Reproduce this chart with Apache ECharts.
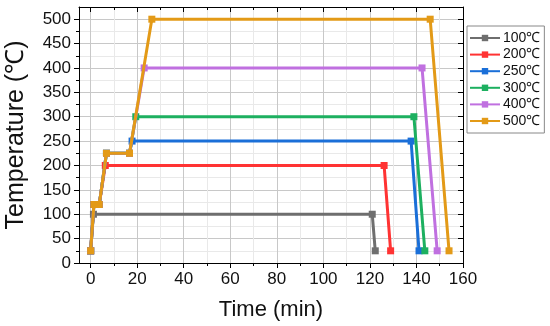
<!DOCTYPE html>
<html><head><meta charset="utf-8">
<script src="https://cdn.jsdelivr.net/npm/echarts@6/dist/echarts.min.js"></script>
<style>html,body{margin:0;padding:0;background:#fff}#c{width:550px;height:326px}</style>
</head><body><div id="c"></div>
<script>
// ---- data ----
const seriesNames = ['100℃', '200℃', '250℃', '300℃', '400℃', '500℃'];
const seriesColors = ['#6e6e6e', '#ff3333', '#1a6fd8', '#1db060', '#c070e0', '#e39a17'];
const time100 = [0, 1.2, 121, 122.3];
const temp100 = [25, 100, 100, 25];
const time200 = [0, 1.4, 3.7, 6.3, 126.1, 128.9];
const temp200 = [25, 120, 120, 200, 200, 25];
const time250 = [0, 1.4, 3.7, 6.8, 16.7, 17.8, 137.7, 141.1];
const temp250 = [25, 120, 120, 225, 225, 250, 250, 25];
const time300 = [0, 1.4, 3.7, 6.8, 16.7, 19.4, 138.9, 143.6];
const temp300 = [25, 120, 120, 225, 225, 300, 300, 25];
const time400 = [0, 1.4, 3.7, 6.8, 16.7, 23.0, 142.4, 148.9];
const temp400 = [25, 120, 120, 225, 225, 400, 400, 25];
const time500 = [0, 1.4, 3.7, 6.8, 16.7, 26.3, 145.9, 154.0];
const temp500 = [25, 120, 120, 225, 225, 500, 500, 25];
const xMajorTicks = [0, 20, 40, 60, 80, 100, 120, 140, 160];
const xMinorTicks = [10, 30, 50, 70, 90, 110, 130, 150];
const yMajorTicks = [0, 50, 100, 150, 200, 250, 300, 350, 400, 450, 500];
const yMinorTicks = [25, 75, 125, 175, 225, 275, 325, 375, 425, 475];
const xName = 'Time (min)';
const yName = 'Temperature (℃)';

const times = [time100, time200, time250, time300, time400, time500];
const temps = [temp100, temp200, temp250, temp300, temp400, temp500];

const FONT = 'Liberation Sans, Arial, sans-serif';
const X_MIN = -5, X_MAX = 160, Y_MIN = 0, Y_MAX = 525;

function xAx(pos, values, major, inside, labels) {
  return {
    type: 'value', position: pos, min: X_MIN, max: X_MAX,
    axisLine: { show: major, onZero: false, lineStyle: { color: '#000', width: 1 } },
    axisTick: { show: true, inside: inside, length: major ? 5 : 3, customValues: values, lineStyle: { color: '#000' } },
    axisLabel: labels ? { show: true, customValues: values, fontSize: 17, color: '#111', fontFamily: FONT, margin: 8 } : { show: false },
    splitLine: { show: pos === 'bottom', lineStyle: { color: major ? '#c8c8c8' : '#e9e9e9', width: 1 } },
    name: labels ? xName : '', nameLocation: 'middle', nameGap: 36,
    nameTextStyle: { fontSize: 22, color: '#111', fontFamily: FONT }
  };
}
function yAx(pos, values, major, inside, labels) {
  return {
    type: 'value', position: pos, min: Y_MIN, max: Y_MAX,
    axisLine: { show: major, onZero: false, lineStyle: { color: '#000', width: 1 } },
    axisTick: { show: true, inside: inside, length: major ? 5 : 3, customValues: values, lineStyle: { color: '#000' } },
    axisLabel: labels ? { show: true, customValues: values, fontSize: 17, color: '#111', fontFamily: FONT, margin: 8 } : { show: false },
    splitLine: { show: pos === 'left', lineStyle: { color: major ? '#c8c8c8' : '#e9e9e9', width: 1 } },
    name: labels ? yName : '', nameLocation: 'middle', nameGap: 50,
    nameTextStyle: { fontSize: 25, color: '#111', fontFamily: FONT }
  };
}

const chart = echarts.init(document.getElementById('c'), null, { renderer: 'canvas' });
chart.setOption({
  animation: false,
  backgroundColor: '#fff',
  grid: { left: 79, right: 87, top: 7, bottom: 63, containLabel: false, outerBoundsMode: 'none' },
  xAxis: [
    xAx('bottom', xMajorTicks, true, false, true),
    xAx('bottom', xMinorTicks, false, false, false),
    xAx('top', xMajorTicks, true, true, false),
    xAx('top', xMinorTicks, false, true, false)
  ],
  yAxis: [
    yAx('left', yMajorTicks, true, false, true),
    yAx('left', yMinorTicks, false, false, false),
    yAx('right', yMajorTicks, true, true, false),
    yAx('right', yMinorTicks, false, true, false)
  ],
  legend: {
    orient: 'vertical', left: 467, top: 26,
    width: 76,
    padding: [5, 4, 5, 2],
    itemWidth: 30, itemHeight: 8, itemGap: 2.6,
    backgroundColor: '#fff', borderColor: '#888', borderWidth: 1, borderRadius: 0,
    textStyle: { fontSize: 14, color: '#111', fontFamily: FONT, lineHeight: 14, padding: [0, 0, 0, -2] },
    data: seriesNames
  },
  series: seriesNames.map((n, i) => ({
    name: n, type: 'line', xAxisIndex: 0, yAxisIndex: 0,
    data: times[i].map((t, j) => [t, temps[i][j]]),
    color: seriesColors[i],
    lineStyle: { width: 3, color: seriesColors[i] },
    symbol: 'rect', symbolSize: 7,
    itemStyle: { color: seriesColors[i] },
    z: 2 + i
  }))
});
</script></body></html>
